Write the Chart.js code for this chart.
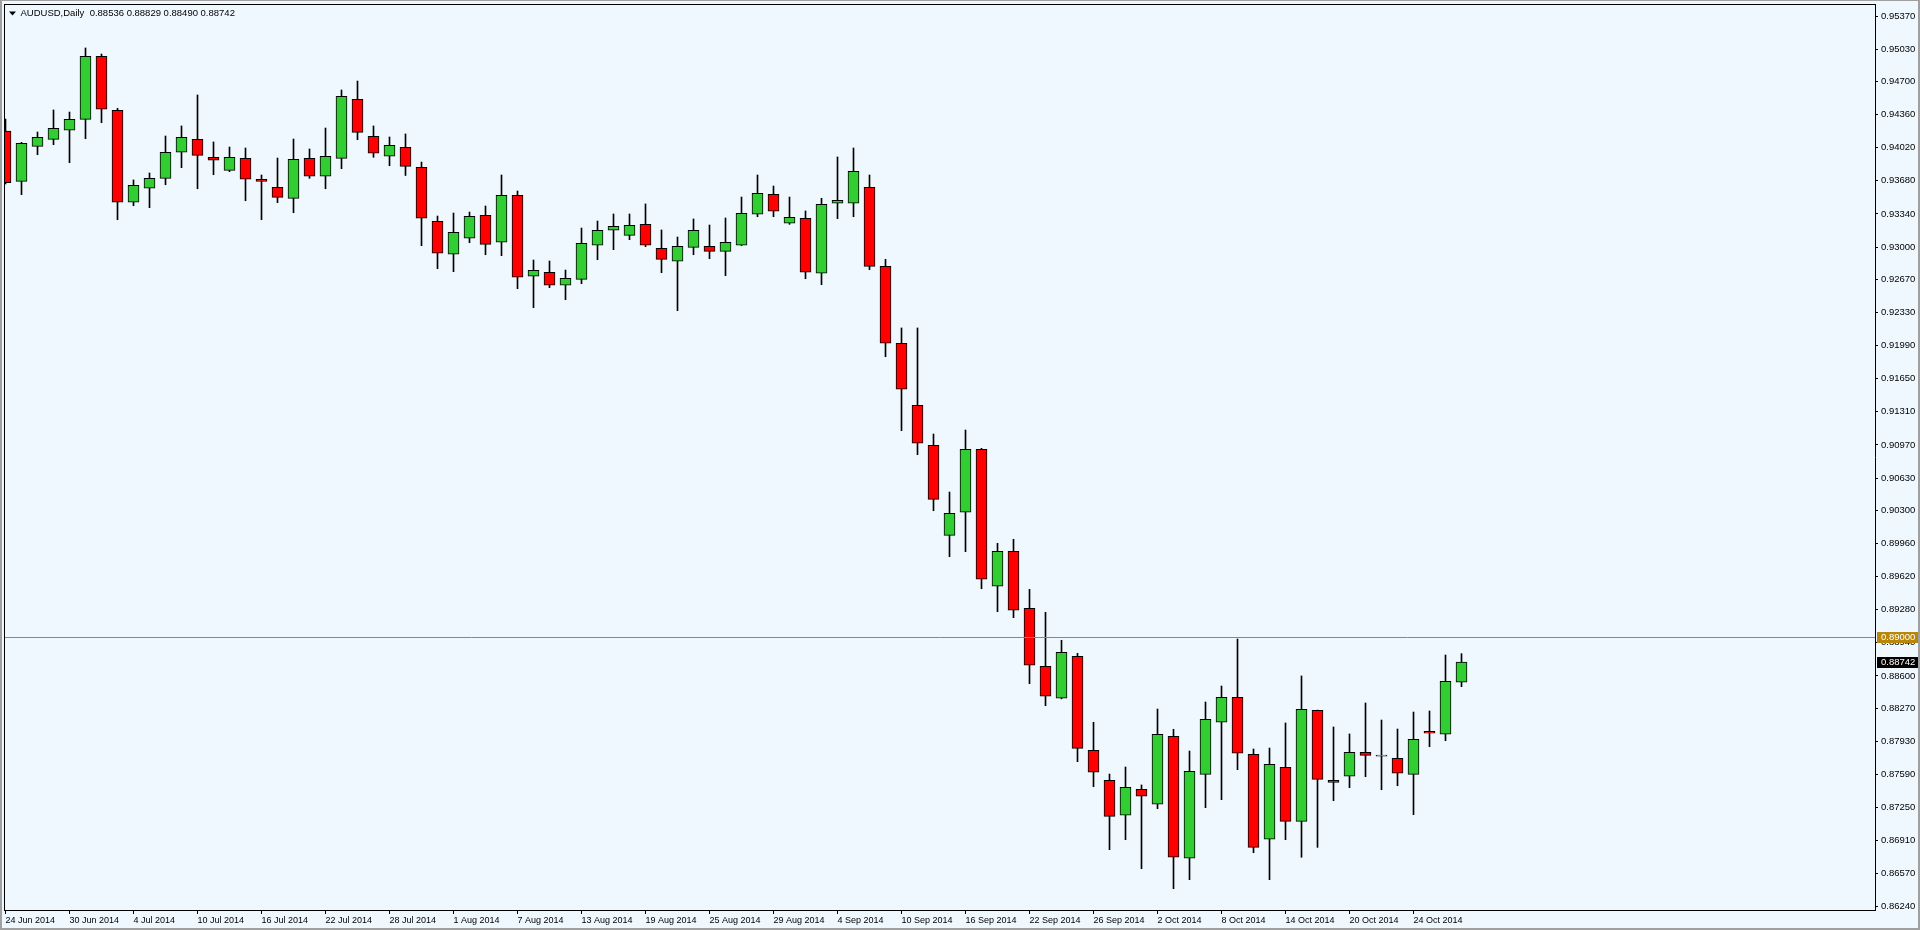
<!DOCTYPE html>
<html>
<head>
<meta charset="utf-8">
<script src="https://cdn.jsdelivr.net/npm/chart.js@4.4.1/dist/chart.umd.min.js"></script>
<style>
html,body{margin:0;padding:0;background:#F0F8FF;overflow:hidden}
canvas{display:block}
</style>
</head>
<body>
<canvas id="c" width="1920" height="930" style="width:1920px;height:930px"></canvas>
<script>
// ---------------- data ----------------
const symbolName = 'AUDUSD';
const timeframeName = 'Daily';

const dates = [
  '24 Jun 2014','25 Jun 2014','26 Jun 2014','27 Jun 2014','30 Jun 2014',
  '1 Jul 2014','2 Jul 2014','3 Jul 2014','4 Jul 2014','7 Jul 2014','8 Jul 2014','9 Jul 2014','10 Jul 2014','11 Jul 2014',
  '14 Jul 2014','15 Jul 2014','16 Jul 2014','17 Jul 2014','18 Jul 2014','21 Jul 2014','22 Jul 2014','23 Jul 2014','24 Jul 2014','25 Jul 2014',
  '28 Jul 2014','29 Jul 2014','30 Jul 2014','31 Jul 2014',
  '1 Aug 2014','4 Aug 2014','5 Aug 2014','6 Aug 2014','7 Aug 2014','8 Aug 2014','11 Aug 2014','12 Aug 2014','13 Aug 2014','14 Aug 2014',
  '15 Aug 2014','18 Aug 2014','19 Aug 2014','20 Aug 2014','21 Aug 2014','22 Aug 2014','25 Aug 2014','26 Aug 2014','27 Aug 2014','28 Aug 2014','29 Aug 2014',
  '1 Sep 2014','2 Sep 2014','3 Sep 2014','4 Sep 2014','5 Sep 2014','8 Sep 2014','9 Sep 2014','10 Sep 2014','11 Sep 2014','12 Sep 2014',
  '15 Sep 2014','16 Sep 2014','17 Sep 2014','18 Sep 2014','19 Sep 2014','22 Sep 2014','23 Sep 2014','24 Sep 2014','25 Sep 2014','26 Sep 2014',
  '29 Sep 2014','30 Sep 2014',
  '1 Oct 2014','2 Oct 2014','3 Oct 2014','6 Oct 2014','7 Oct 2014','8 Oct 2014','9 Oct 2014','10 Oct 2014','13 Oct 2014','14 Oct 2014',
  '15 Oct 2014','16 Oct 2014','17 Oct 2014','20 Oct 2014','21 Oct 2014','22 Oct 2014','23 Oct 2014','24 Oct 2014','27 Oct 2014','28 Oct 2014','29 Oct 2014'
];

const openPrices = [
  0.94190,0.93674,0.94033,0.94105,0.94198,0.94310,0.94957,0.94403,0.93459,0.93603,
  0.93705,0.93972,0.94105,0.93921,0.93787,0.93910,0.93695,0.93613,0.93500,0.93910,
  0.93726,0.93910,0.94516,0.94136,0.93931,0.94023,0.93818,0.93264,0.92926,0.93090,
  0.93326,0.93049,0.93531,0.92700,0.92741,0.92608,0.92669,0.93018,0.93172,0.93120,
  0.93233,0.92987,0.92854,0.92997,0.93008,0.92956,0.93018,0.93336,0.93541,0.93244,
  0.93295,0.92731,0.93449,0.93449,0.93613,0.92802,0.92013,0.91377,0.90966,0.90043,
  0.90279,0.90925,0.89520,0.89879,0.89294,0.88699,0.88371,0.88802,0.87837,0.87530,
  0.87171,0.87438,0.87284,0.87981,0.86730,0.87591,0.88125,0.88381,0.87797,0.86925,
  0.87663,0.87109,0.88248,0.87530,0.87571,0.87817,0.87777,0.87756,0.87591,0.88032,
  0.88002,0.88536
];
const highPrices = [
  0.94313,0.94074,0.94180,0.94406,0.94385,0.95042,0.94980,0.94423,0.93688,0.93760,
  0.94139,0.94242,0.94560,0.94078,0.94026,0.94016,0.93739,0.93913,0.94108,0.94006,
  0.94221,0.94611,0.94703,0.94242,0.94129,0.94160,0.93872,0.93318,0.93349,0.93359,
  0.93421,0.93739,0.93575,0.92867,0.92857,0.92764,0.93195,0.93267,0.93339,0.93339,
  0.93442,0.93175,0.93103,0.93288,0.93226,0.93298,0.93513,0.93739,0.93626,0.93513,
  0.93370,0.93500,0.93924,0.94016,0.93739,0.92874,0.92170,0.92170,0.91082,0.90487,
  0.91123,0.90935,0.89961,0.90002,0.89489,0.89253,0.88966,0.88833,0.88125,0.87594,
  0.87666,0.87482,0.88261,0.88053,0.87830,0.88333,0.88497,0.88979,0.87851,0.87861,
  0.88118,0.88600,0.88250,0.88077,0.88005,0.88323,0.88148,0.88056,0.88230,0.88241,
  0.88815,0.88829
];
const lowPrices = [
  0.93647,0.93537,0.93947,0.94050,0.93865,0.94111,0.94275,0.93280,0.93424,0.93404,
  0.93639,0.93814,0.93598,0.93742,0.93773,0.93475,0.93280,0.93455,0.93352,0.93705,
  0.93598,0.93804,0.94101,0.93921,0.93834,0.93734,0.93014,0.92778,0.92747,0.93044,
  0.92921,0.92911,0.92573,0.92378,0.92583,0.92460,0.92624,0.92870,0.92973,0.93075,
  0.93004,0.92737,0.92347,0.92921,0.92880,0.92706,0.93015,0.93311,0.93311,0.93233,
  0.92675,0.92614,0.93291,0.93311,0.92768,0.91875,0.91116,0.90870,0.90295,0.89824,
  0.89875,0.89495,0.89259,0.89198,0.88521,0.88295,0.88365,0.87721,0.87464,0.86818,
  0.86921,0.86623,0.87239,0.86418,0.86510,0.87249,0.87331,0.87639,0.86787,0.86510,
  0.86921,0.86740,0.86842,0.87321,0.87454,0.87567,0.87433,0.87474,0.87177,0.87874,
  0.87936,0.88490
];
const closePrices = [
  0.93660,0.94064,0.94126,0.94218,0.94310,0.94957,0.94413,0.93459,0.93633,0.93705,
  0.93972,0.94126,0.93941,0.93890,0.93921,0.93695,0.93674,0.93510,0.93900,0.93726,
  0.93931,0.94546,0.94177,0.93962,0.94044,0.93828,0.93295,0.92936,0.93151,0.93315,
  0.93028,0.93531,0.92690,0.92761,0.92608,0.92679,0.93038,0.93172,0.93213,0.93223,
  0.93018,0.92874,0.93008,0.93172,0.92956,0.93049,0.93346,0.93551,0.93367,0.93305,
  0.92741,0.93438,0.93479,0.93777,0.92802,0.92013,0.91541,0.90987,0.90412,0.90269,
  0.90925,0.89592,0.89879,0.89274,0.88710,0.88392,0.88843,0.87858,0.87612,0.87160,
  0.87458,0.87366,0.88002,0.86740,0.87622,0.88156,0.88381,0.87807,0.86842,0.87694,
  0.87109,0.88258,0.87540,0.87509,0.87817,0.87786,0.87777,0.87602,0.87950,0.88012,
  0.88545,0.88742
];

const priceTicks = [
  0.95370,0.95030,0.94700,0.94360,0.94020,0.93680,0.93340,0.93000,0.92670,0.92330,
  0.91990,0.91650,0.91310,0.90970,0.90630,0.90300,0.89960,0.89620,0.89280,0.88940,
  0.88600,0.88270,0.87930,0.87590,0.87250,0.86910,0.86570,0.86240
];
const levelPrice = 0.89000;
const priceMin = 0.861993;
const priceMax = 0.954931;

// ---------------- style ----------------
const BG = '#F0F8FF';
const UP = '#32CD32';
const DOWN = '#FF0000';
const LEVEL = '#B8860B';
const FONT = '"Liberation Sans", Arial, sans-serif';
const FSIZE = 9.5;
const XFSIZE = 9;
const BAR_STEP = 16;            // px per bar
const AREA_L = 4, AREA_R = 1875;
const X_MIN = -1.5 / BAR_STEP;
const X_MAX = X_MIN + (AREA_R - AREA_L) / BAR_STEP;

const fmt = v => v.toFixed(5);

const bodyData = dates.map((d, i) => ({ x: i, y: [openPrices[i], closePrices[i]] }));
const wickData = dates.map((d, i) => ({ x: i, y: [lowPrices[i], highPrices[i]] }));
const bodyColors = dates.map((d, i) => closePrices[i] >= openPrices[i] ? UP : DOWN);

const decor = {
  id: 'decor',
  beforeDraw(chart) {
    const ctx = chart.ctx;
    ctx.save();
    ctx.fillStyle = BG;
    ctx.fillRect(0, 0, chart.width, chart.height);
    ctx.restore();
  },
  afterDatasetsDraw(chart) {
    const { ctx, chartArea: a, scales: { y } } = chart;
    const py = Math.round(y.getPixelForValue(levelPrice)) + 0.5;
    ctx.save();
    ctx.strokeStyle = LEVEL;
    ctx.lineWidth = 1;
    ctx.beginPath();
    ctx.moveTo(a.left, py);
    ctx.lineTo(a.right, py);
    ctx.stroke();
    ctx.restore();
  },
  afterDraw(chart) {
    const { ctx, chartArea: a, scales: { y } } = chart;
    ctx.save();
    // chart frame (left / top)
    ctx.fillStyle = '#000';
    ctx.fillRect(a.left, a.top, 1, a.bottom - a.top + 1);
    ctx.fillRect(a.left, a.top, a.right - a.left + 1, 1);

    // price boxes on the axis
    ctx.font = FSIZE + 'px ' + FONT;
    ctx.textBaseline = 'middle';
    ctx.textAlign = 'left';
    const box = (price, bg, fg) => {
      const py = Math.round(y.getPixelForValue(price));
      ctx.fillStyle = bg;
      ctx.fillRect(a.right + 2, py - 5, chart.width - a.right - 2, 11);
      ctx.fillStyle = fg;
      ctx.fillText(fmt(price), a.right + 6, py + 0.5);
    };
    box(levelPrice, LEVEL, '#FFFFFF');
    const last = closePrices.length - 1;
    box(closePrices[last], '#000000', '#FFFFFF');

    // title
    ctx.fillStyle = '#000';
    ctx.beginPath();
    ctx.moveTo(9, 11.5);
    ctx.lineTo(16, 11.5);
    ctx.lineTo(12.5, 15.5);
    ctx.closePath();
    ctx.fill();
    const t = symbolName + ',' + timeframeName + '  ' +
      [openPrices[last], highPrices[last], lowPrices[last], closePrices[last]].map(fmt).join(' ');
    ctx.fillText(t, 20.5, 13.5);

    // window border
    ctx.fillStyle = '#A0A0A0';
    ctx.fillRect(0, 0, chart.width, 1);
    ctx.fillRect(0, 0, 2, chart.height);
    ctx.fillRect(chart.width - 2, 0, 2, chart.height);
    ctx.fillRect(0, chart.height - 2, chart.width, 2);
    ctx.restore();
  }
};

Chart.defaults.font.family = FONT;
Chart.defaults.font.size = FSIZE;
Chart.defaults.color = '#000';

new Chart(document.getElementById('c'), {
  type: 'bar',
  data: {
    datasets: [
      {
        label: 'body',
        data: bodyData,
        backgroundColor: bodyColors,
        borderColor: '#000',
        borderWidth: 1,
        borderSkipped: false,
        barThickness: 11,
        grouped: false,
        minBarLength: 1
      },
      {
        label: 'wick',
        data: wickData,
        backgroundColor: '#000',
        borderWidth: 0,
        barThickness: 1,
        grouped: false
      }
    ]
  },
  options: {
    responsive: false,
    devicePixelRatio: 1,
    animation: false,
    events: [],
    layout: { padding: { left: AREA_L, top: 4, right: 0, bottom: 0 } },
    plugins: { legend: { display: false }, tooltip: { enabled: false }, title: { display: false } },
    scales: {
      x: {
        type: 'linear',
        min: X_MIN,
        max: X_MAX,
        offset: false,
        grid: { display: true, offset: false, drawOnChartArea: false, drawTicks: true, tickLength: 4, tickColor: '#000' },
        border: { display: true, color: '#000', width: 1 },
        afterBuildTicks(scale) {
          scale.ticks = dates.map((d, i) => i).filter(i => i % 4 === 0).map(v => ({ value: v }));
        },
        afterFit(scale) {
          scale.height = 20;
          scale.paddingLeft = 0; scale.paddingRight = 0;
        },
        ticks: {
          autoSkip: false,
          maxRotation: 0,
          minRotation: 0,
          align: 'start',
          labelOffset: 0,
          padding: 1,
          color: '#000',
          font: { size: XFSIZE, family: FONT },
          callback: v => dates[v] || ''
        }
      },
      y: {
        type: 'linear',
        position: 'right',
        min: priceMin,
        max: priceMax,
        grid: { display: true, drawOnChartArea: false, drawTicks: true, tickLength: 3, tickColor: '#000' },
        border: { display: true, color: '#000', width: 1 },
        afterBuildTicks(scale) {
          scale.ticks = priceTicks.map(v => ({ value: v }));
        },
        afterFit(scale) {
          scale.width = 1920 - AREA_R;
          scale.paddingTop = 0; scale.paddingBottom = 0;
        },
        ticks: {
          autoSkip: false,
          padding: 3,
          color: '#000',
          font: { size: FSIZE, family: FONT },
          callback: v => fmt(v)
        }
      }
    }
  },
  plugins: [decor]
});
</script>
</body>
</html>
